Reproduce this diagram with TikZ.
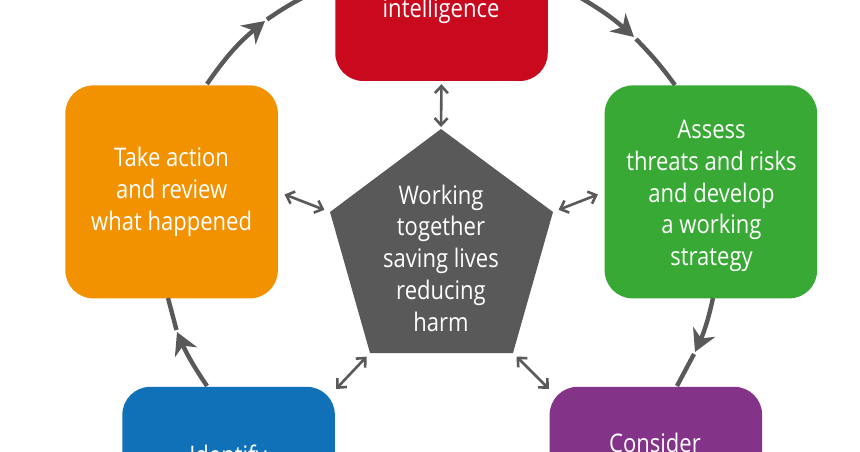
\documentclass[tikz,border=0pt]{standalone}
\usepackage{fontspec}
\setmainfont[FakeStretch=0.86]{Open Sans}
\usepackage{xcolor}
\usetikzlibrary{positioning,arrows.meta,shapes}

\definecolor{redBox}{HTML}{C8091E}
\definecolor{orangeBox}{HTML}{F39200}
\definecolor{greenBox}{HTML}{38A935}
\definecolor{purpleBox}{HTML}{833388}
\definecolor{blueBox}{HTML}{1070B8}
\definecolor{hubGray}{HTML}{595959}

\tikzset{
    stagebox/.style={rectangle, rounded corners=28pt, minimum width=212.5pt, minimum height=213pt, inner sep=0pt, align=center, text=white, font=\fontsize{25.6}{31.7}\selectfont},
    stagetext/.style={text=white, inner sep=0pt, align=center, font=\fontsize{25.6}{31.7}\selectfont},
    cycle/.style={draw=hubGray, line width=4.4pt},
    cyclehead/.style={cycle, -{Stealth[length=22pt, width=24pt, inset=7pt]}},
    link/.style={draw=hubGray, line width=2.6pt, {Straight Barb[length=7pt, width=13pt]}-{Straight Barb[length=7pt, width=13pt]}}
}

\begin{document}
\begin{tikzpicture}[x=1pt, y=-1pt]
    \path[use as bounding box, clip] (0,0) rectangle (860,452);

    \node[stagebox, fill=redBox] (intel) at (441.5,-25.5) {};
    \node[stagebox, fill=orangeBox, below left=4pt and 57pt of intel] (action) {Take action\\and review\\what happened};
    \node[stagebox, fill=greenBox, below right=4pt and 56.5pt of intel] (assess) {};
    \node[stagebox, fill=blueBox, below=88pt of action, xshift=57pt] (identify) {};
    \node[stagebox, fill=purpleBox, below=88pt of assess, xshift=-55pt] (consider) {};
    \node[stagetext] (intelLabel) at (441,11) {intelligence};
    \node[stagetext] (assessLabel) at (711.5,196) {Assess\\threats and risks\\and develop\\a working\\strategy};
    \node[stagetext] (identifyLabel) at (228,458) {Identify};
    \node[stagetext] (considerLabel) at (655,443) {Consider};

    % pentagon in the middle
    \coordinate (hubTop) at (441,129);
    \coordinate (hubRight) at (553,212);
    \coordinate (hubLowRight) at (513,353);
    \coordinate (hubLowLeft) at (370,353);
    \coordinate (hubLeft) at (330,212);
    \fill[hubGray] (hubTop) -- (hubRight) -- (hubLowRight) -- (hubLowLeft) -- (hubLeft) -- cycle;
    \node[stagetext] (hub) at (441,258) {Working\\together\\saving lives\\reducing\\harm};

    % free ends of the ring
    \coordinate (ringA) at (207,84);
    \coordinate (ringB) at (265,21);
    \coordinate (ringC) at (267,19.5);
    \coordinate (ringD) at (310,-6);
    \coordinate (ringE) at (574,-6);
    \coordinate (ringF) at (634,37);
    \coordinate (ringG) at (636,39);
    \coordinate (ringH) at (675,85);
    \coordinate (ringI) at (713,298);
    \coordinate (ringJ) at (695,352);
    \coordinate (ringK) at (694,354);
    \coordinate (ringL) at (677,386);
    \coordinate (ringM) at (207,386);
    \coordinate (ringN) at (177,332);
    \coordinate (ringO) at (176.5,330);
    \coordinate (ringP) at (168,298);

    \draw[cyclehead] (ringA) to[bend left=8] (ringB);
    \draw[cycle] (ringC) to[bend left=4] (ringD);
    \draw[cyclehead] (ringE) to[bend left=6] (ringF);
    \draw[cycle] (ringG) to[bend left=4] (ringH);
    \draw[cyclehead] (ringI) to[bend left=6] (ringJ);
    \draw[cycle] (ringK) -- (ringL);
    \draw[cyclehead] (ringM) to[bend left=5] (ringN);
    \draw[cycle] (ringO) -- (ringP);

    % double arrows to the pentagon
    \coordinate (linkBlue) at (336,389);
    \coordinate (linkPurple) at (549,389);
    \draw[link, shorten >=2pt, shorten <=3pt] (intel.south) -- (hubTop);
    \draw[link, shorten >=6pt, shorten <=7pt] (action.east) -- (hubLeft);
    \draw[link, shorten >=6pt, shorten <=7pt] (assess.west) -- (hubRight);
    \draw[link, shorten >=5pt] (linkBlue) -- (hubLowLeft);
    \draw[link, shorten >=5pt] (linkPurple) -- (hubLowRight);
\end{tikzpicture}
\end{document}
